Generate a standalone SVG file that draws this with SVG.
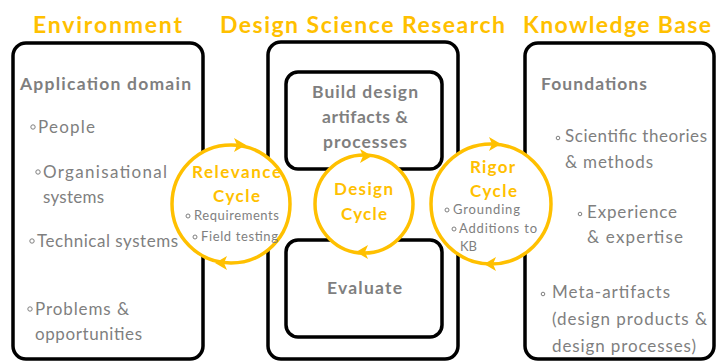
<svg xmlns="http://www.w3.org/2000/svg" width="718" height="361" viewBox="0 0 718 361">
  <style>
    .box { fill: #ffffff; stroke: #000000; stroke-width: 3.5; }
    .cycle { fill: #ffffff; stroke: #FFC000; stroke-width: 3.5; }
    .head { fill: #FFC000; }
    .title { font-family: Lato, "Liberation Sans", sans-serif; font-weight: bold; font-size: 23px; fill: #FFC000; }
    .hdr { font-family: Lato, "Liberation Sans", sans-serif; font-weight: bold; font-size: 17.5px; fill: #7F7F7F; }
    .item { font-family: Lato, "Liberation Sans", sans-serif; font-size: 17px; fill: #7F7F7F; }
    .bul { fill: none; stroke: #7F7F7F; stroke-width: 1; }
    .cyc { font-family: Lato, "Liberation Sans", sans-serif; font-weight: bold; font-size: 17px; fill: #FFC000; }
    .small { font-family: Lato, "Liberation Sans", sans-serif; font-size: 13px; fill: #7F7F7F; }
  </style>

  <!-- column titles -->
  <g id="titles">
    <text class="title" x="107.5" y="33" text-anchor="middle" textLength="149">Environment</text>
    <text class="title" x="362.5" y="33" text-anchor="middle" textLength="285">Design Science Research</text>
    <text class="title" x="617" y="33" text-anchor="middle" textLength="188">Knowledge Base</text>
  </g>

  <!-- Environment column -->
  <g id="environment">
    <rect class="box" x="13" y="43" width="190" height="316" rx="13"/>
    <text class="hdr" x="20" y="90" textLength="171">Application domain</text>
    <circle class="bul" cx="33" cy="127" r="2.2"/>
    <text class="item" x="38" y="133" textLength="57">People</text>
    <circle class="bul" cx="38" cy="172" r="2.2"/>
    <text class="item" x="43" y="178" textLength="124">Organisational</text>
    <text class="item" x="43" y="203" textLength="61">systems</text>
    <circle class="bul" cx="32" cy="241" r="2.2"/>
    <text class="item" x="37" y="247" textLength="141">Technical systems</text>
    <circle class="bul" cx="30" cy="309" r="2.2"/>
    <text class="item" x="35" y="315" textLength="94">Problems &amp;</text>
    <text class="item" x="35" y="340" textLength="107">opportunities</text>
  </g>

  <!-- Design Science Research column -->
  <g id="dsr">
    <rect class="box" x="268" y="42" width="190" height="317" rx="13"/>
  </g>
  <g id="build">
    <rect class="box" x="286" y="72" width="156" height="97" rx="12"/>
    <text class="hdr" x="365" y="98" text-anchor="middle" textLength="106">Build design</text>
    <text class="hdr" x="365" y="123" text-anchor="middle" textLength="86">artifacts &amp;</text>
    <text class="hdr" x="365" y="148" text-anchor="middle" textLength="84">processes</text>
  </g>
  <g id="evaluate">
    <rect class="box" x="286" y="240" width="156" height="97" rx="12"/>
    <text class="hdr" x="364.5" y="294" text-anchor="middle" textLength="75">Evaluate</text>
  </g>

  <!-- Knowledge Base column -->
  <g id="knowledge">
    <rect class="box" x="525" y="43" width="189" height="316" rx="13"/>
    <text class="hdr" x="541" y="90" textLength="106">Foundations</text>
    <circle class="bul" cx="558" cy="138" r="1.8"/>
    <text class="item" x="565" y="142" textLength="142">Scientific theories</text>
    <text class="item" x="565" y="168" textLength="88">&amp; methods</text>
    <circle class="bul" cx="580" cy="214" r="1.8"/>
    <text class="item" x="587" y="218" textLength="90">Experience</text>
    <text class="item" x="587" y="243" textLength="96">&amp; expertise</text>
    <circle class="bul" cx="543" cy="294" r="1.8"/>
    <text class="item" x="552" y="298" textLength="118">Meta-artifacts</text>
    <text class="item" x="552" y="325" textLength="155">(design products &amp;</text>
    <text class="item" x="552" y="352" textLength="144">design processes)</text>
  </g>

  <!-- cycles: ring with two arrowheads each -->
  <g id="relevance-cycle">
    <circle class="cycle" cx="231" cy="204" r="59"/>
    <polygon class="head" points="246,145 234,138 237,145 234,152"/>
    <polygon class="head" points="215,263 227,256 224,263 227,270"/>
    <text class="cyc" x="236.5" y="178" text-anchor="middle" textLength="89">Relevance</text>
    <text class="cyc" x="236.5" y="202" text-anchor="middle" textLength="47">Cycle</text>
    <circle class="bul" cx="188" cy="216" r="2"/>
    <text class="small" x="194" y="220" textLength="85">Requirements</text>
    <circle class="bul" cx="195" cy="237" r="2"/>
    <text class="small" x="201" y="241" textLength="77">Field testing</text>
  </g>
  <g id="design-cycle">
    <circle class="cycle" cx="364" cy="204" r="49"/>
    <polygon class="head" points="372,156 360,149 363,156 360,163"/>
    <polygon class="head" points="356,252 368,245 365,252 368,259"/>
    <text class="cyc" x="363.5" y="195" text-anchor="middle" textLength="59">Design</text>
    <text class="cyc" x="364" y="220" text-anchor="middle" textLength="46">Cycle</text>
  </g>
  <g id="rigor-cycle">
    <circle class="cycle" cx="491" cy="204" r="60"/>
    <polygon class="head" points="501,144 489,137 492,144 489,151"/>
    <polygon class="head" points="484,264 496,257 493,264 496,271"/>
    <text class="cyc" x="492.5" y="173" text-anchor="middle" textLength="45">Rigor</text>
    <text class="cyc" x="493.5" y="197" text-anchor="middle" textLength="47">Cycle</text>
    <circle class="bul" cx="447" cy="210" r="2"/>
    <text class="small" x="453" y="214" textLength="67">Grounding</text>
    <circle class="bul" cx="454" cy="229" r="2"/>
    <text class="small" x="459" y="233" textLength="78">Additions to</text>
    <text class="small" x="460" y="251" textLength="17">KB</text>
  </g>
</svg>
